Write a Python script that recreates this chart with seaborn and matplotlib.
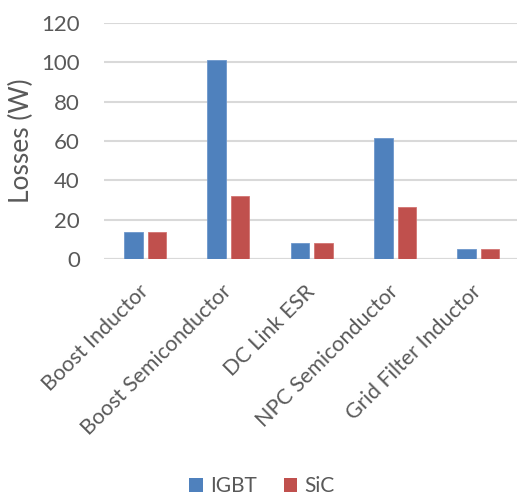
import matplotlib
matplotlib.use("Agg")
import matplotlib.pyplot as plt
import seaborn as sns
import pandas as pd
from matplotlib.patches import Patch

categories = ["Boost Inductor", "Boost Semiconductor", "DC Link ESR",
              "NPC Semiconductor", "Grid Filter Inductor"]
igbt_losses = [13.7, 100.9, 8.2, 61.4, 5.3]
sic_losses = [13.7, 32.3, 8.2, 26.5, 5.3]
series_names = ["IGBT", "SiC"]
y_ticks = [0, 20, 40, 60, 80, 100, 120]

df = pd.DataFrame({
    "Component": categories * 2,
    "Losses": igbt_losses + sic_losses,
    "Device": [series_names[0]] * len(categories) + [series_names[1]] * len(categories),
})

sns.set_theme(style="white")
plt.rcParams["font.family"] = ["Lato", "DejaVu Sans"]
text_color = "#595959"
palette = {"IGBT": "#4F81BD", "SiC": "#C0504D"}

fig = plt.figure(figsize=(5.17, 4.95), dpi=100)
ax = fig.add_axes([103.5 / 517, (495 - 259.3) / 495, 416.5 / 517, 236.6 / 495])

sns.barplot(data=df, x="Component", y="Losses", hue="Device", palette=palette,
            width=0.564, gap=0.21, ax=ax, legend=False, saturation=1,
            linewidth=0.6, zorder=3)
for p, c in zip(ax.patches, ["#6D97CC"] * 5 + ["#D27472"] * 5):
    p.set_edgecolor(c)

ax.set_xlim(-0.5, 4.5)
ax.set_ylim(0, 120)
ax.set_yticks(y_ticks)
ax.yaxis.grid(True, color="#D9D9D9", linewidth=1.5, zorder=0)
ax.set_axisbelow(True)
for s in ax.spines.values():
    s.set_visible(False)
ax.axhline(0, color="#D9D9D9", linewidth=1.5, zorder=1)

ax.tick_params(axis="y", length=0, pad=17, labelsize=16, labelcolor=text_color)
ax.tick_params(axis="x", length=0, pad=21, labelsize=15.5, labelcolor=text_color)
ax.set_xticks(range(len(categories)))
ax.set_xticklabels(categories, rotation=45, ha="right", va="center",
                   rotation_mode="anchor")
ax.set_xlabel("")
ax.set_ylabel("Losses (W)", fontsize=19, color=text_color)
ax.yaxis.set_label_coords(-0.168, 0.5)

handles = [Patch(facecolor=palette[n], edgecolor="none") for n in series_names]
fig.legend(handles, series_names, loc="center", bbox_to_anchor=(262 / 517, 1 - 486 / 495),
           ncol=2, frameon=False, fontsize=15, labelcolor=text_color,
           handlelength=0.65, handleheight=0.65, handletextpad=0.35, columnspacing=1.3)

fig.savefig("out.png", dpi=100)
